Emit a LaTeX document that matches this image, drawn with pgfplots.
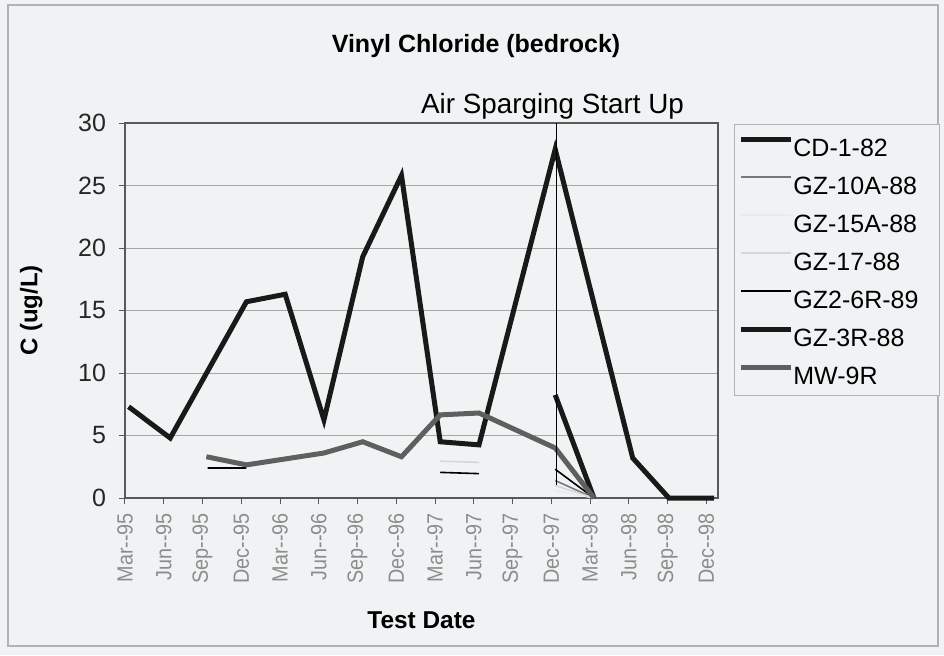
\documentclass[border=0pt]{standalone}
\usepackage{pgfplots}
\pgfplotsset{compat=1.18}
\usepackage{fontspec}
\setmainfont{Liberation Sans}
\newfontfamily\tickfont{Liberation Sans}[FakeStretch=0.9]
\definecolor{bg}{RGB}{240,243,244}
\definecolor{mwgray}{RGB}{95,95,95}
\definecolor{gzten}{RGB}{120,120,120}
\definecolor{gzfifteen}{RGB}{232,235,236}
\definecolor{gzseventeen}{RGB}{212,215,217}
\newcommand\legtxt[1]{\makebox[71pt][l]{#1}}

\begin{document}
\begin{tikzpicture}
% chart area
\fill[bg] (-62.5pt,-78.5pt) rectangle (409.5pt,249pt);
\draw[gray!60, line width=0.6pt] (-58.5pt,-74pt) rectangle (406.5pt,246.5pt);
\begin{axis}[
    at={(0pt,0pt)}, anchor=south west,
    scale only axis, width=296.5pt, height=187.5pt,
    xmin=0, xmax=45.9, ymin=0, ymax=30,
    xtick={0,3,...,45},
    xticklabels={Mar--95,Jun--95,Sep--95,Dec--95,Mar--96,Jun--96,Sep--96,Dec--96,Mar--97,Jun--97,Sep--97,Dec--97,Mar--98,Jun--98,Sep--98,Dec--98},
    ytick={0,5,...,30},
    xtick pos=bottom, ytick pos=left,
    tick align=outside, major tick length=3pt,
    ymajorgrids, grid style={gray!70, line width=0.5pt},
    axis line style={gray!70!black, line width=0.6pt},
    tick style={gray!70!black, line width=0.5pt},
    /pgf/number format/assume math mode=true,
    yticklabel style={font=\fontsize{12.5}{14}\selectfont, color=black!85, xshift=-3pt},
    xticklabel style={font=\tickfont\fontsize{11}{12}\selectfont, color=gray!90, rotate=90, anchor=east, xshift=-1pt},
    xlabel={Test Date}, ylabel={C (ug/L)},
    xlabel style={font=\bfseries\fontsize{12.2}{14}\selectfont, at={(axis description cs:0.5,-0.349)}, anchor=base},
    ylabel style={font=\bfseries\fontsize{12}{14}\selectfont, at={(axis description cs:-0.158,0.5)}, anchor=center},
    clip=false, unbounded coords=jump,
    legend style={at={(axis description cs:1.027,0.997)}, anchor=north west,
        draw=gray!60, fill=bg, font=\fontsize{12.5}{14}\selectfont,
        inner xsep=2pt, inner ysep=5pt, row sep=7.5pt,
        nodes={inner sep=0pt, text height=11pt, text depth=0.5pt}},
    legend cell align=left,
    legend image code/.code={\draw[#1] (0pt,3.5pt) -- (25pt,3.5pt);},
]
\addplot[black!90, line width=2.5pt] coordinates {
    (0.28,7.3) (3.5,4.8) (9.4,15.7) (12.4,16.3) (15.4,6.25) (18.4,19.3) (21.4,25.8)
    (24.4,4.5) (27.4,4.25) (33.3,27.9) (39.3,3.2) (42.1,0) (45.6,0)};
\addlegendentry{\legtxt{CD-1-82}}
\addplot[gzten, line width=0.8pt] coordinates {(33.3,1.4) (36.3,0)};
\addlegendentry{\legtxt{GZ-10A-88}}
\addplot[gzfifteen, line width=0.8pt] coordinates {(33.3,0.6) (36.3,0)};
\addlegendentry{\legtxt{GZ-15A-88}}
\addplot[gzseventeen, line width=0.8pt] coordinates {(24.4,2.95) (27.4,2.85) (nan,nan) (33.3,1.0) (36.3,0)};
\addlegendentry{\legtxt{GZ-17-88}}
\addplot[black, line width=0.8pt] coordinates {(6.4,2.4) (9.4,2.4) (nan,nan) (24.4,2.05) (27.4,1.95) (nan,nan) (33.3,2.3) (36.3,0)};
\addlegendentry{\legtxt{GZ2-6R-89}}
\addplot[black!90, line width=2.5pt] coordinates {(33.3,8.25) (36.3,0)};
\addlegendentry{\legtxt{GZ-3R-88}}
\addplot[mwgray, line width=2.5pt] coordinates {
    (6.3,3.3) (9.4,2.65) (15.4,3.6) (18.4,4.5) (21.4,3.3) (24.4,6.65) (27.4,6.8) (33.3,4.0) (36.3,0)};
\addlegendentry{\legtxt{MW-9R}}
% air sparging start up marker
\addplot[black, line width=0.6pt, forget plot] coordinates {(33.4,1.04) (33.4,30)};
\node[anchor=base, font=\fontsize{13.9}{16}\selectfont, yshift=5pt, xshift=-2pt] at (axis cs:33.4,30) {Air Sparging Start Up};
\node[anchor=base, font=\bfseries\fontsize{12.5}{14}\selectfont] at (axis description cs:0.592,1.187) {Vinyl Chloride (bedrock)};
\end{axis}
\end{tikzpicture}
\end{document}
